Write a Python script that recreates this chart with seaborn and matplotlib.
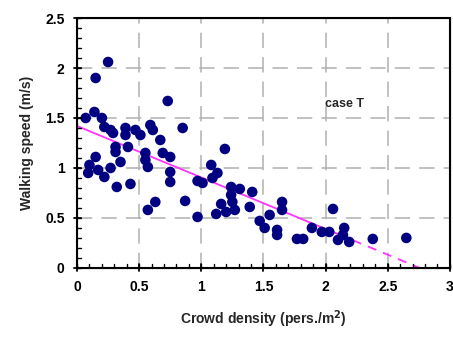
import numpy as np
import pandas as pd
import matplotlib
matplotlib.use('Agg')
import matplotlib.pyplot as plt
from matplotlib.patches import Rectangle
from matplotlib.lines import Line2D
import seaborn as sns

# measured points (crowd density, walking speed)
density = [0.25, 0.15, 0.73, 0.07, 0.14, 0.20, 0.22, 0.27, 0.29, 0.39,
           0.39, 0.47, 0.51, 0.59, 0.61, 0.67, 0.85, 0.31, 0.31, 0.41,
           0.55, 0.55, 0.57, 0.69, 0.75, 0.35, 0.15, 0.10, 0.09, 0.17,
           0.22, 0.27, 0.32, 0.43, 0.75, 0.75, 0.63, 0.57, 0.87, 0.97,
           0.97, 1.01, 1.19, 1.08, 1.13, 1.09, 1.24, 1.31, 1.41, 1.24,
           1.25, 1.16, 1.27, 1.20, 1.12, 1.39, 1.65, 1.65, 1.55, 1.47,
           1.51, 1.61, 1.61, 1.77, 1.82, 1.89, 2.06, 1.97, 2.03, 2.15,
           2.14, 2.10, 2.19, 2.38, 2.65]
speed = [2.06, 1.90, 1.67, 1.50, 1.56, 1.50, 1.41, 1.38, 1.35, 1.40,
         1.33, 1.38, 1.33, 1.43, 1.38, 1.28, 1.40, 1.21, 1.16, 1.21,
         1.15, 1.08, 1.01, 1.15, 1.11, 1.06, 1.11, 1.03, 0.95, 0.98,
         0.91, 1.00, 0.81, 0.84, 0.96, 0.86, 0.66, 0.58, 0.67, 0.51,
         0.87, 0.85, 1.19, 1.03, 0.95, 0.90, 0.81, 0.79, 0.76, 0.73,
         0.66, 0.64, 0.58, 0.56, 0.54, 0.61, 0.66, 0.58, 0.53, 0.47,
         0.40, 0.38, 0.33, 0.29, 0.29, 0.40, 0.59, 0.36, 0.36, 0.40,
         0.33, 0.28, 0.26, 0.29, 0.30]

# linear fit: v = 1.42 - 0.515 * D
fit_x_solid = [0.0, 2.22]
fit_x_dash = [2.22, 2.80]
intercept = 1.42
slope = -0.515

x_major = [0, 0.5, 1, 1.5, 2, 2.5, 3]
x_labels = ['0', '0.5', '1', '1.5', '2', '2.5', '3']
y_major = [0, 0.5, 1, 1.5, 2, 2.5]
y_labels = ['0', '0.5', '1', '1.5', '2', '2.5']

df = pd.DataFrame({'density': density, 'speed': speed})
solid = pd.DataFrame({'x': fit_x_solid})
solid['y'] = intercept + slope * solid['x']
dash = pd.DataFrame({'x': fit_x_dash})
dash['y'] = intercept + slope * dash['x']

sns.set_style('ticks')
plt.rcParams['font.family'] = ['Liberation Sans', 'DejaVu Sans']
plt.rcParams['font.weight'] = 'bold'

fig = plt.figure(figsize=(4.53, 3.4), dpi=100)
ax = fig.add_axes([0.170, 0.212, 0.823, 0.735])

sns.scatterplot(data=df, x='density', y='speed', ax=ax, color='#000080',
                s=58, edgecolor='none', zorder=3)
sns.lineplot(data=solid, x='x', y='y', ax=ax, color='#ff33ff', lw=1.3, zorder=2)
sns.lineplot(data=dash, x='x', y='y', ax=ax, color='#ff33ff', lw=1.3, zorder=2)
ax.lines[-1].set_linestyle((0, (5, 4)))

ax.set_xlim(0, 3)
ax.set_ylim(0, 2.5)
ax.set_xticks(x_major)
ax.set_xticklabels(x_labels)
ax.set_yticks(y_major)
ax.set_yticklabels(y_labels)
ax.tick_params(which='both', length=0, labelsize=10, pad=9, colors='black')

ax.grid(True, which='major', color='#b0b0b0', linestyle=(0, (10, 6)), lw=1.1)
ax.set_axisbelow(True)

# frame and tick marks added at figure level, placed with the axes transforms
fig.add_artist(Rectangle((0, 0), 1, 1, transform=ax.transAxes, fill=False,
                         lw=1.5, ec='black', zorder=10))
xt = ax.get_xaxis_transform()
yt = ax.get_yaxis_transform()
for v in np.arange(0, 3.01, 0.1):
    fig.add_artist(Line2D([v, v], [0, 0.014], transform=xt, color='black', lw=1.0, zorder=10))
for v in x_major:
    fig.add_artist(Line2D([v, v], [-0.014, 0.014], transform=xt, color='black', lw=1.3, zorder=10))
for v in np.arange(0, 2.51, 0.1):
    fig.add_artist(Line2D([0, 0.0094], [v, v], transform=yt, color='black', lw=1.0, zorder=10))
for v in y_major:
    fig.add_artist(Line2D([-0.0094, 0.0094], [v, v], transform=yt, color='black', lw=1.3, zorder=10))

ax.set_xlabel('Crowd density (pers./m$^\\mathbf{2}$)', fontsize=10,
              fontweight='bold', labelpad=10)
ax.set_ylabel('Walking speed (m/s)', fontsize=10, fontweight='bold', labelpad=8)
ax.text(2.15, 1.64, 'case T', fontsize=9, fontweight='bold', ha='center', va='center')

fig.savefig('out.png', dpi=100)
